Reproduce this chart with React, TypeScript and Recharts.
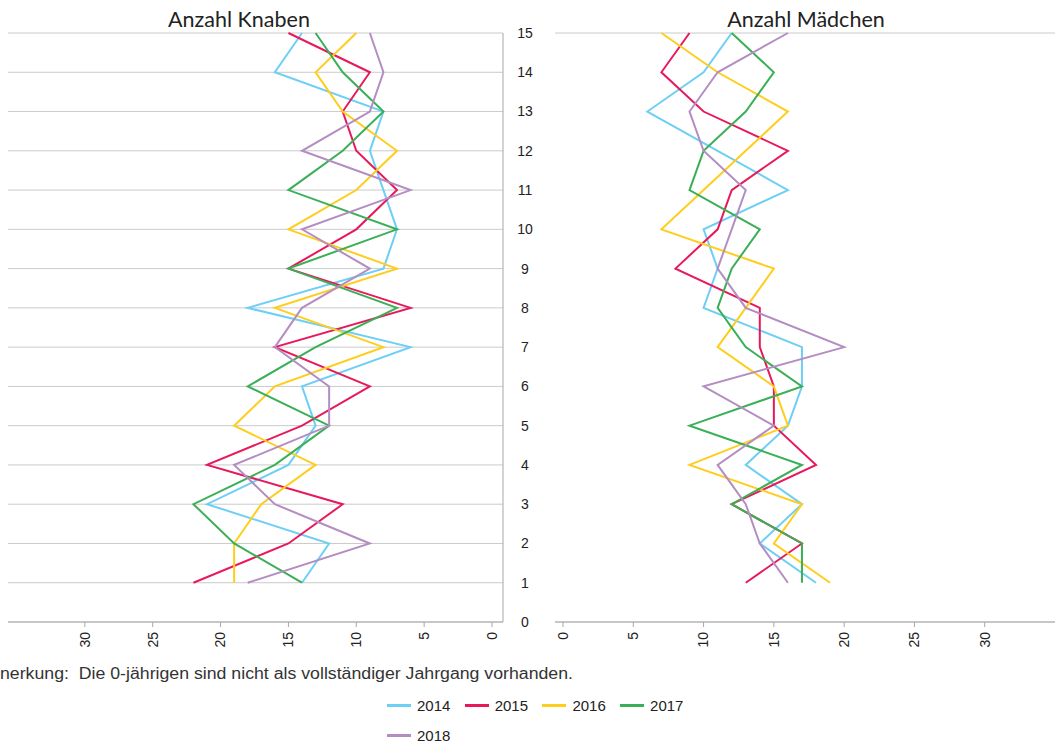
import React from 'react';
import { LineChart, Line, XAxis, YAxis, CartesianGrid } from 'recharts';

// ages on the vertical axis (data starts at 1, 0 is shown but empty)
const ages = [1, 2, 3, 4, 5, 6, 7, 8, 9, 10, 11, 12, 13, 14, 15];
const yTicks = [0, 1, 2, 3, 4, 5, 6, 7, 8, 9, 10, 11, 12, 13, 14, 15];
const xTicks = [0, 5, 10, 15, 20, 25, 30];
const years = ['2014', '2015', '2016', '2017', '2018'];
const colors = ['#6dcff6', '#e8195a', '#ffcd1c', '#3aaf57', '#b48dc2'];

// Anzahl Knaben, age 1..15
const boys2014 = [14, 12, 21, 15, 13, 14, 6, 18, 8, 7, 8, 9, 8, 16, 14];
const boys2015 = [22, 15, 11, 21, 14, 9, 16, 6, 15, 10, 7, 10, 11, 9, 15];
const boys2016 = [19, 19, 17, 13, 19, 16, 8, 16, 7, 15, 10, 7, 11, 13, 10];
const boys2017 = [14, 19, 22, 16, 12, 18, 13, 7, 15, 7, 15, 11, 8, 11, 13];
const boys2018 = [18, 9, 16, 19, 12, 12, 16, 14, 9, 14, 6, 14, 9, 8, 9];

// Anzahl Mädchen, age 1..15
const girls2014 = [18, 14, 17, 13, 16, 17, 17, 10, 11, 10, 16, 11, 6, 10, 12];
const girls2015 = [13, 17, 12, 18, 15, 15, 14, 14, 8, 11, 12, 16, 10, 7, 9];
const girls2016 = [19, 15, 17, 9, 16, 15, 11, 13, 15, 7, 10, 13, 16, 11, 7];
const girls2017 = [17, 17, 12, 17, 9, 17, 13, 11, 12, 14, 9, 10, 13, 15, 12];
const girls2018 = [16, 14, 13, 11, 15, 10, 20, 13, 11, 12, 13, 10, 9, 11, 16];

const boysSeries = [boys2014, boys2015, boys2016, boys2017, boys2018];
const girlsSeries = [girls2014, girls2015, girls2016, girls2017, girls2018];

const toRows = (series: number[][]) =>
  ages.map((age, i) => {
    const row: Record<string, number> = { age };
    years.forEach((y, k) => {
      row['y' + y] = series[k][i];
    });
    return row;
  });

const boysRows = toRows(boysSeries);
const girlsRows = toRows(girlsSeries);

const GRID = '#cacaca';
const AXIS = '#a8a8a8';
const TICK_FONT = '"Liberation Sans", Arial, sans-serif';

const XTick = (props: any) => {
  const { x, y, payload } = props;
  return (
    <g transform={`translate(${x},${y + 3})`}>
      <text
        transform="rotate(-90)"
        textAnchor="end"
        dy="0.35em"
        fontSize={14}
        fontFamily={TICK_FONT}
        fill="#222"
      >
        {payload.value}
      </text>
    </g>
  );
};

const AgeTick = (props: any) => {
  const { y, payload } = props;
  return (
    <text x={525} y={y} dy="0.35em" textAnchor="middle" fontSize={14} fontFamily={TICK_FONT} fill="#222">
      {payload.value}
    </text>
  );
};

const lines = () =>
  years.map((y, k) => (
    <Line
      key={y}
      dataKey={'y' + y}
      name={y}
      stroke={colors[k]}
      strokeWidth={2}
      dot={false}
      activeDot={false}
      isAnimationActive={false}
    />
  ));

const titleStyle: React.CSSProperties = {
  position: 'absolute',
  top: 6,
  fontFamily: 'Lato, "Open Sans", sans-serif',
  fontSize: 21.5,
  color: '#222',
  whiteSpace: 'nowrap',
  transform: 'translateX(-50%)',
};

const App = () => {
  return (
    <div style={{ position: 'absolute', left: 0, top: 0, width: 1055, height: 745, background: '#fff', overflow: 'hidden' }}>
      <div style={{ ...titleStyle, left: 239 }}>Anzahl Knaben</div>
      <div style={{ ...titleStyle, left: 806 }}>Anzahl Mädchen</div>

      <div style={{ position: 'absolute', left: 0, top: 0 }}>
        <LineChart width={555} height={662} layout="vertical" data={boysRows} margin={{ top: 33, right: 0, bottom: 0, left: 8 }}>
          <CartesianGrid vertical={false} stroke={GRID} />
          <XAxis
            type="number"
            domain={[0, 35]}
            ticks={xTicks}
            interval={0}
            reversed
            padding={{ left: 9, right: 11 }}
            height={40}
            axisLine={{ stroke: AXIS }}
            tickLine={{ stroke: AXIS }}
            tickSize={5}
            tick={<XTick />}
          />
          <YAxis
            type="number"
            dataKey="age"
            domain={[0, 15]}
            ticks={yTicks}
            interval={0}
            reversed
            orientation="right"
            width={52}
            axisLine={{ stroke: AXIS }}
            tickLine={false}
            tick={<AgeTick />}
          />
          {lines()}
        </LineChart>
      </div>

      <div style={{ position: 'absolute', left: 545, top: 0 }}>
        <LineChart width={510} height={662} layout="vertical" data={girlsRows} margin={{ top: 33, right: 0, bottom: 0, left: 10 }}>
          <CartesianGrid vertical={false} stroke={GRID} />
          <XAxis
            type="number"
            domain={[0, 35]}
            ticks={xTicks}
            interval={0}
            padding={{ left: 8, right: 0 }}
            height={40}
            axisLine={{ stroke: AXIS }}
            tickLine={{ stroke: AXIS }}
            tickSize={5}
            tick={<XTick />}
          />
          <YAxis
            type="number"
            dataKey="age"
            domain={[0, 15]}
            ticks={yTicks}
            interval={0}
            reversed
            width={0}
            axisLine={{ stroke: AXIS }}
            tickLine={false}
            tick={false}
          />
          {lines()}
        </LineChart>
      </div>

      <svg width={1055} height={30} style={{ position: 'absolute', left: 0, top: 660 }}>
        <text
          x={0}
          y={19}
          fontSize={16}
          fontFamily={TICK_FONT}
          fill="#333"
          textLength={573}
          lengthAdjust="spacingAndGlyphs"
          style={{ whiteSpace: 'pre' }}
        >
          nerkung:  Die 0-jährigen sind nicht als vollständiger Jahrgang vorhanden.
        </text>
      </svg>

      <div style={{ position: 'absolute', left: 387, top: 690, width: 320, display: 'flex', flexWrap: 'wrap' }}>
        {years.map((y, k) => (
          <div key={y} style={{ width: 77.7, height: 30, display: 'flex', alignItems: 'center' }}>
            <span style={{ display: 'inline-block', width: 24, height: 3, background: colors[k], marginRight: 6 }} />
            <span style={{ fontFamily: TICK_FONT, fontSize: 15, color: '#222' }}>{y}</span>
          </div>
        ))}
      </div>
    </div>
  );
};

export default App;
